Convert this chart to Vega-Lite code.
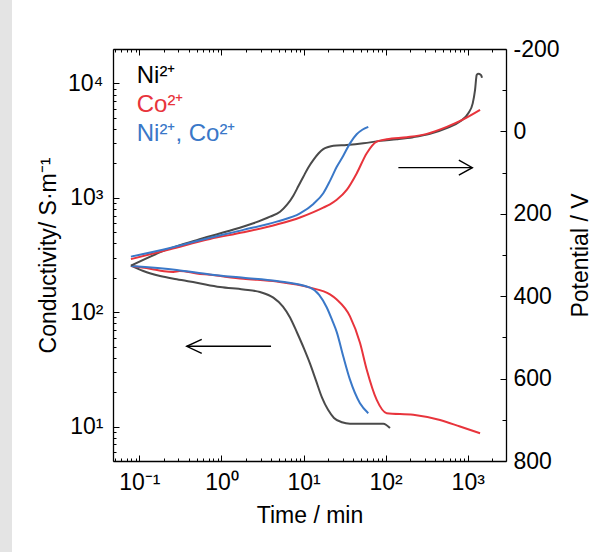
{
  "$schema": "https://vega.github.io/schema/vega-lite/v6.json",
  "width": 393,
  "height": 412,
  "autosize": "none",
  "padding": {"left": 113, "top": 49, "right": 99, "bottom": 91},
  "background": "#e4e4e4",
  "config": {
    "view": {"stroke": "#ffffff", "strokeWidth": 202, "fill": "#ffffff"},
    "font": "Liberation Sans",
    "axis": {
      "grid": false,
      "domainColor": "#000000",
      "domainWidth": 1.3,
      "tickColor": "#000000",
      "tickWidth": 1,
      "labelColor": "#000000",
      "titleColor": "#000000",
      "labelFont": "Liberation Sans",
      "titleFont": "Liberation Sans",
      "labelFontSize": 23,
      "titleFontSize": 23,
      "titleFontWeight": "normal",
      "labelOverlap": false,
      "labelFlush": false,
      "labelBound": false
    }
  },
  "datasets": {
    "cond": [
      {"s": "Ni", "t": 0.079, "v": 257}, {"s": "Ni", "t": 0.112, "v": 229}, {"s": "Ni", "t": 0.179, "v": 207},
      {"s": "Ni", "t": 0.286, "v": 194}, {"s": "Ni", "t": 0.5, "v": 181}, {"s": "Ni", "t": 0.962, "v": 166},
      {"s": "Ni", "t": 1.85, "v": 158}, {"s": "Ni", "t": 2.95, "v": 150}, {"s": "Ni", "t": 4.29, "v": 134},
      {"s": "Ni", "t": 5.62, "v": 112}, {"s": "Ni", "t": 6.85, "v": 90}, {"s": "Ni", "t": 8.33, "v": 66.4},
      {"s": "Ni", "t": 10.14, "v": 48}, {"s": "Ni", "t": 12.0, "v": 35.5}, {"s": "Ni", "t": 14.2, "v": 25.2},
      {"s": "Ni", "t": 16.8, "v": 17.9}, {"s": "Ni", "t": 19.9, "v": 14.0}, {"s": "Ni", "t": 23.5, "v": 11.9},
      {"s": "Ni", "t": 29.4, "v": 10.9}, {"s": "Ni", "t": 36.8, "v": 10.6}, {"s": "Ni", "t": 64.5, "v": 10.6},
      {"s": "Ni", "t": 93.8, "v": 10.6}, {"s": "Ni", "t": 113, "v": 9.7},
      {"s": "Co", "t": 0.079, "v": 253}, {"s": "Co", "t": 0.135, "v": 240}, {"s": "Co", "t": 0.2, "v": 228},
      {"s": "Co", "t": 0.26, "v": 225}, {"s": "Co", "t": 0.31, "v": 229}, {"s": "Co", "t": 0.5, "v": 218},
      {"s": "Co", "t": 0.726, "v": 212}, {"s": "Co", "t": 1.85, "v": 196}, {"s": "Co", "t": 4.72, "v": 185},
      {"s": "Co", "t": 12.0, "v": 164}, {"s": "Co", "t": 21.0, "v": 143}, {"s": "Co", "t": 25.4, "v": 129},
      {"s": "Co", "t": 36.8, "v": 92}, {"s": "Co", "t": 48.7, "v": 54}, {"s": "Co", "t": 58.9, "v": 31.4},
      {"s": "Co", "t": 77.9, "v": 17.1}, {"s": "Co", "t": 103, "v": 13.1}, {"s": "Co", "t": 217, "v": 12.7},
      {"s": "Co", "t": 460, "v": 11.4}, {"s": "Co", "t": 805, "v": 10.0}, {"s": "Co", "t": 1413, "v": 8.75},
      {"s": "NiCo", "t": 0.079, "v": 253}, {"s": "NiCo", "t": 0.286, "v": 234}, {"s": "NiCo", "t": 0.726, "v": 214},
      {"s": "NiCo", "t": 1.85, "v": 200}, {"s": "NiCo", "t": 4.72, "v": 187}, {"s": "NiCo", "t": 12.0, "v": 164},
      {"s": "NiCo", "t": 15.5, "v": 142}, {"s": "NiCo", "t": 19.2, "v": 110}, {"s": "NiCo", "t": 22.5, "v": 84},
      {"s": "NiCo", "t": 25.4, "v": 67}, {"s": "NiCo", "t": 30.5, "v": 41}, {"s": "NiCo", "t": 36.8, "v": 25.7},
      {"s": "NiCo", "t": 48.7, "v": 16}, {"s": "NiCo", "t": 61.5, "v": 13.1}
    ],
    "pot": [
      {"s": "Ni", "t": 0.079, "p": 326}, {"s": "Ni", "t": 0.237, "p": 284}, {"s": "Ni", "t": 0.5, "p": 264},
      {"s": "Ni", "t": 1.16, "p": 243}, {"s": "Ni", "t": 2.45, "p": 223}, {"s": "Ni", "t": 3.91, "p": 207},
      {"s": "Ni", "t": 5.18, "p": 195}, {"s": "Ni", "t": 6.3, "p": 178}, {"s": "Ni", "t": 7.51, "p": 156},
      {"s": "Ni", "t": 8.7, "p": 132}, {"s": "Ni", "t": 9.95, "p": 110}, {"s": "Ni", "t": 11.4, "p": 88},
      {"s": "Ni", "t": 13.2, "p": 69}, {"s": "Ni", "t": 15.3, "p": 53}, {"s": "Ni", "t": 17.4, "p": 43},
      {"s": "Ni", "t": 20.0, "p": 38}, {"s": "Ni", "t": 23.1, "p": 35}, {"s": "Ni", "t": 33.6, "p": 33},
      {"s": "Ni", "t": 53.5, "p": 29}, {"s": "Ni", "t": 85.5, "p": 23}, {"s": "Ni", "t": 137, "p": 19},
      {"s": "Ni", "t": 217, "p": 14}, {"s": "Ni", "t": 347, "p": 6}, {"s": "Ni", "t": 555, "p": -8},
      {"s": "Ni", "t": 805, "p": -24}, {"s": "Ni", "t": 1016, "p": -44}, {"s": "Ni", "t": 1150, "p": -68},
      {"s": "Ni", "t": 1227, "p": -100}, {"s": "Ni", "t": 1286, "p": -137}, {"s": "Ni", "t": 1335, "p": -140},
      {"s": "Ni", "t": 1450, "p": -137}, {"s": "Ni", "t": 1493, "p": -130},
      {"s": "Co", "t": 0.079, "p": 310}, {"s": "Co", "t": 0.237, "p": 286}, {"s": "Co", "t": 0.726, "p": 261},
      {"s": "Co", "t": 1.85, "p": 245}, {"s": "Co", "t": 4.72, "p": 226}, {"s": "Co", "t": 9.06, "p": 209},
      {"s": "Co", "t": 13.2, "p": 196}, {"s": "Co", "t": 17.4, "p": 185}, {"s": "Co", "t": 21.0, "p": 177},
      {"s": "Co", "t": 25.4, "p": 166}, {"s": "Co", "t": 33.6, "p": 142}, {"s": "Co", "t": 44.4, "p": 102},
      {"s": "Co", "t": 58.9, "p": 53}, {"s": "Co", "t": 77.9, "p": 25}, {"s": "Co", "t": 103, "p": 19},
      {"s": "Co", "t": 181, "p": 14}, {"s": "Co", "t": 317, "p": 6}, {"s": "Co", "t": 555, "p": -11},
      {"s": "Co", "t": 883, "p": -29}, {"s": "Co", "t": 1413, "p": -52},
      {"s": "NiCo", "t": 0.079, "p": 304}, {"s": "NiCo", "t": 0.237, "p": 283}, {"s": "NiCo", "t": 0.726, "p": 258},
      {"s": "NiCo", "t": 1.85, "p": 239}, {"s": "NiCo", "t": 4.72, "p": 219}, {"s": "NiCo", "t": 9.06, "p": 199},
      {"s": "NiCo", "t": 13.2, "p": 176}, {"s": "NiCo", "t": 17.4, "p": 150}, {"s": "NiCo", "t": 21.0, "p": 120},
      {"s": "NiCo", "t": 25.4, "p": 86}, {"s": "NiCo", "t": 30.5, "p": 59}, {"s": "NiCo", "t": 36.8, "p": 29},
      {"s": "NiCo", "t": 44.4, "p": 7}, {"s": "NiCo", "t": 52, "p": -4}, {"s": "NiCo", "t": 61.5, "p": -11}
    ],
    "labels": [
      {"s": "Ni", "label": "Ni²⁺", "t": 0.093, "v": 10140},
      {"s": "Co", "label": "Co²⁺", "t": 0.093, "v": 5650},
      {"s": "NiCo", "label": "Ni²⁺, Co²⁺", "t": 0.093, "v": 3140}
    ],
    "arrowL": [{"t1": 0.378, "t2": 4.02, "v": 50.3}],
    "arrowR": [{"t1": 143, "t2": 1138, "p": 88}]
  },
  "layer": [
    {
      "layer": [
        {
          "data": {"name": "cond"},
          "mark": {"type": "line", "strokeWidth": 2, "interpolate": "monotone"},
          "encoding": {
            "x": {
              "field": "t", "type": "quantitative",
              "scale": {"type": "log", "domain": [0.0478, 2925], "nice": false},
              "axis": {
                "orient": "bottom",
                "title": "Time / min",
                "values": [0.1, 1, 10, 100, 1000],
                "labelExpr": "datum.value == 0.1 ? '10⁻¹' : datum.value == 1 ? '10⁰' : datum.value == 10 ? '10¹' : datum.value == 100 ? '10²' : '10³'",
                "tickSize": -6,
                "labelPadding": 16,
                "titlePadding": 10
              }
            },
            "y": {
              "field": "v", "type": "quantitative",
              "scale": {"type": "log", "domain": [5, 20000], "nice": false},
              "axis": {
                "orient": "left",
                "title": "Conductivity/ S·m⁻¹",
                "values": [10, 100, 1000, 10000],
                "labelExpr": "datum.value == 10 ? '10¹' : datum.value == 100 ? '10²' : datum.value == 1000 ? '10³' : '10⁴'",
                "tickSize": -6,
                "labelPadding": 16,
                "titlePadding": 7
              }
            },
            "color": {
              "field": "s", "type": "nominal",
              "scale": {"domain": ["Ni", "Co", "NiCo"], "range": ["#4a4a4a", "#e8343c", "#3a78c8"]},
              "legend": null
            }
          }
        },
        {
          "data": {"name": "arrowL"},
          "mark": {"type": "rule", "color": "#000000", "strokeWidth": 1.4},
          "encoding": {
            "x": {
              "field": "t1", "type": "quantitative",
              "scale": {"type": "log", "domain": [0.0478, 2925], "nice": false},
              "axis": {
                "orient": "bottom", "title": null, "labels": false, "domain": false, "tickSize": -3,
                "values": [0.05, 0.06, 0.07, 0.08, 0.09, 0.2, 0.3, 0.4, 0.5, 0.6, 0.7, 0.8, 0.9, 2, 3, 4, 5, 6, 7, 8, 9, 20, 30, 40, 50, 60, 70, 80, 90, 200, 300, 400, 500, 600, 700, 800, 900, 2000]
              }
            },
            "x2": {"field": "t2"},
            "y": {
              "field": "v", "type": "quantitative",
              "scale": {"type": "log", "domain": [5, 20000], "nice": false},
              "axis": {
                "orient": "left", "title": null, "labels": false, "domain": false, "tickSize": -3,
                "values": [5, 6, 7, 8, 9, 20, 30, 40, 50, 60, 70, 80, 90, 200, 300, 400, 500, 600, 700, 800, 900, 2000, 3000, 4000, 5000, 6000, 7000, 8000, 9000, 20000]
              }
            }
          }
        },
        {
          "data": {"name": "arrowL"},
          "mark": {"type": "point", "shape": "M1,-0.47L0,0L1,0.47", "size": 900, "filled": false, "stroke": "#000000", "strokeWidth": 1.4, "opacity": 1},
          "encoding": {
            "x": {"field": "t1", "type": "quantitative", "scale": {"type": "log", "domain": [0.0478, 2925], "nice": false}, "axis": null},
            "y": {"field": "v", "type": "quantitative", "scale": {"type": "log", "domain": [5, 20000], "nice": false}, "axis": null}
          }
        },
        {
          "data": {"name": "labels"},
          "mark": {"type": "text", "align": "left", "baseline": "alphabetic", "fontSize": 24, "font": "Liberation Sans"},
          "encoding": {
            "x": {"field": "t", "type": "quantitative", "scale": {"type": "log", "domain": [0.0478, 2925], "nice": false}, "axis": null},
            "y": {"field": "v", "type": "quantitative", "scale": {"type": "log", "domain": [5, 20000], "nice": false}, "axis": null},
            "text": {"field": "label"},
            "fill": {
              "field": "s", "type": "nominal",
              "scale": {"domain": ["Ni", "Co", "NiCo"], "range": ["#000000", "#e8343c", "#3a78c8"]},
              "legend": null
            }
          }
        }
      ],
      "resolve": {"axis": {"x": "independent", "y": "independent"}}
    },
    {
      "layer": [
        {
          "data": {"name": "pot"},
          "mark": {"type": "line", "strokeWidth": 2, "interpolate": "monotone"},
          "encoding": {
            "x": {
              "field": "t", "type": "quantitative",
              "scale": {"type": "log", "domain": [0.0478, 2925], "nice": false},
              "axis": {
                "orient": "top", "title": null, "labels": false, "tickSize": -6,
                "values": [0.1, 1, 10, 100, 1000]
              }
            },
            "y": {
              "field": "p", "type": "quantitative",
              "scale": {"domain": [-200, 800], "reverse": true, "nice": false, "zero": false},
              "axis": {
                "orient": "right",
                "title": "Potential / V",
                "values": [-200, 0, 200, 400, 600, 800],
                "labelExpr": "'' + datum.value",
                "tickSize": -6,
                "labelPadding": 13,
                "titleAngle": 270,
                "titleBaseline": "top",
                "titlePadding": 10
              }
            },
            "color": {
              "field": "s", "type": "nominal",
              "scale": {"domain": ["Ni", "Co", "NiCo"], "range": ["#4a4a4a", "#e8343c", "#3a78c8"]},
              "legend": null
            }
          }
        },
        {
          "data": {"name": "arrowR"},
          "mark": {"type": "rule", "color": "#000000", "strokeWidth": 1.4},
          "encoding": {
            "x": {
              "field": "t1", "type": "quantitative",
              "scale": {"type": "log", "domain": [0.0478, 2925], "nice": false},
              "axis": {
                "orient": "top", "title": null, "labels": false, "domain": false, "tickSize": -3,
                "values": [0.05, 0.06, 0.07, 0.08, 0.09, 0.2, 0.3, 0.4, 0.5, 0.6, 0.7, 0.8, 0.9, 2, 3, 4, 5, 6, 7, 8, 9, 20, 30, 40, 50, 60, 70, 80, 90, 200, 300, 400, 500, 600, 700, 800, 900, 2000]
              }
            },
            "x2": {"field": "t2"},
            "y": {
              "field": "p", "type": "quantitative",
              "scale": {"domain": [-200, 800], "reverse": true, "nice": false, "zero": false},
              "axis": {
                "orient": "right", "title": null, "labels": false, "domain": false, "tickSize": -4,
                "values": [-100, 100, 300, 500, 700]
              }
            }
          }
        },
        {
          "data": {"name": "arrowR"},
          "mark": {"type": "point", "shape": "M-1,-0.55L0,0L-1,0.55", "size": 729, "filled": false, "stroke": "#000000", "strokeWidth": 1.4, "opacity": 1},
          "encoding": {
            "x": {"field": "t2", "type": "quantitative", "scale": {"type": "log", "domain": [0.0478, 2925], "nice": false}, "axis": null},
            "y": {"field": "p", "type": "quantitative", "scale": {"domain": [-200, 800], "reverse": true, "nice": false, "zero": false}, "axis": null}
          }
        }
      ],
      "resolve": {"axis": {"x": "independent", "y": "independent"}}
    }
  ],
  "resolve": {"scale": {"y": "independent"}}
}
